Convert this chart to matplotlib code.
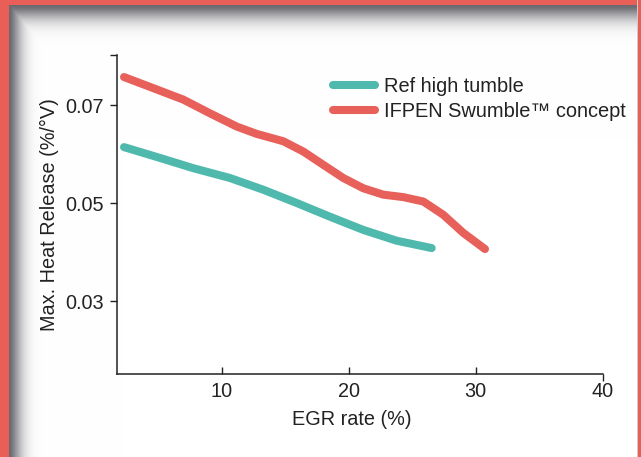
import matplotlib
matplotlib.use("Agg")
import matplotlib.pyplot as plt
import numpy as np

plt.rcParams['font.family'] = ['Liberation Sans', 'DejaVu Sans']

# series
ref_x = [2.28, 5.11, 7.74, 10.63, 13.26, 15.89, 18.51, 21.14, 23.77, 26.53]
ref_y = [0.0615, 0.0593, 0.0572, 0.0552, 0.0528, 0.0501, 0.0473, 0.0446,
         0.0424, 0.0409]

swu_x = [2.28, 4.32, 6.95, 9.05, 11.16, 12.74, 14.83, 16.41, 17.98, 19.56,
         21.14, 22.71, 24.29, 25.87, 27.44, 29.02, 30.73]
swu_y = [0.0758, 0.0738, 0.0712, 0.0684, 0.0657, 0.0642, 0.0627, 0.0606,
         0.0579, 0.0552, 0.0531, 0.0518, 0.0513, 0.0504, 0.0477, 0.0440,
         0.0407]

labels = ["Ref high tumble", "IFPEN Swumble\u2122 concept"]
colors = ["#4fb9ad", "#e8605a"]
x_ticks = [10, 20, 30]
y_ticks = [0.03, 0.05, 0.07]
x_lim = (1.75, 40)
y_lim = (0.0152, 0.0803)

W, H = 641, 457
fig = plt.figure(figsize=(W / 100, H / 100), dpi=100)

# background: red frame with soft grey shadow
img = np.ones((H, W, 3))
yy, xx = np.mgrid[0:H, 0:W]
shade = np.array([0.27, 0.27, 0.30])
d_top = np.clip(yy - 5, 0, None)
d_left = np.clip(xx - 9, 0, None)
dark = np.maximum(0.8 * np.exp(-(d_top / 14.0) ** 1.6),
                  0.8 * np.exp(-(d_left / 12.0) ** 1.6))
img = img * (1 - dark[..., None]) + shade * dark[..., None]
red = np.array([233, 95, 88]) / 255
img[:5, :] = red
img[:, :9] = red
img[:, 638:] = red
img[:, 637] = [0.8, 0.8, 0.8]
bg = fig.add_axes([0, 0, 1, 1], zorder=0)
bg.imshow(img, aspect='auto', interpolation='nearest')
bg.axis('off')

ax = fig.add_axes([117.3 / W, 1 - 374 / H, (602.6 - 117.3) / W, (374 - 55) / H], zorder=1)
ax.set_facecolor('none')

ax.plot(ref_x, ref_y, color=colors[0], lw=5.8, solid_capstyle='round',
        solid_joinstyle='round', label=labels[0])
ax.plot(swu_x, swu_y, color=colors[1], lw=5.8, solid_capstyle='round',
        solid_joinstyle='round', label=labels[1])

ax.set_xlim(*x_lim)
ax.set_ylim(*y_lim)
for s in ['top', 'right']:
    ax.spines[s].set_visible(False)
for s in ['left', 'bottom']:
    ax.spines[s].set_linewidth(1.1)
    ax.spines[s].set_color('#222222')

tc = '#222222'
ax.set_xticks(x_ticks, [str(v) for v in x_ticks])
ax.set_xticks([x_lim[1]], ['40'], minor=True)
ax.tick_params(axis='x', which='major', direction='in', length=5, width=1,
               pad=5.8, labelsize=14.3, colors=tc)
ax.tick_params(axis='x', which='minor', direction='out', length=5, width=1,
               pad=0.8, labelsize=14.3, colors=tc)
ax.set_yticks(y_ticks + [y_lim[1]], ['%.2f' % v for v in y_ticks] + [''])
ax.tick_params(axis='y', direction='out', length=5, width=1, pad=4.5,
               labelsize=14.3, colors=tc)

ax.set_xlabel("EGR rate (%)", fontsize=14.3, color=tc)
ax.xaxis.set_label_coords(0.484, -0.112)
ax.set_ylabel("Max. Heat Release (%/\u00b0V)", fontsize=14.3, color=tc)
ax.yaxis.set_label_coords(-0.12, 0.5)

leg = ax.legend(loc='upper left', bbox_to_anchor=(0.428, 0.955), frameon=False,
                fontsize=14.4, handlelength=2.1, handletextpad=0.45,
                labelspacing=0.28, borderaxespad=0)
for t in leg.get_texts():
    t.set_color(tc)

fig.savefig("out.png", dpi=100)
